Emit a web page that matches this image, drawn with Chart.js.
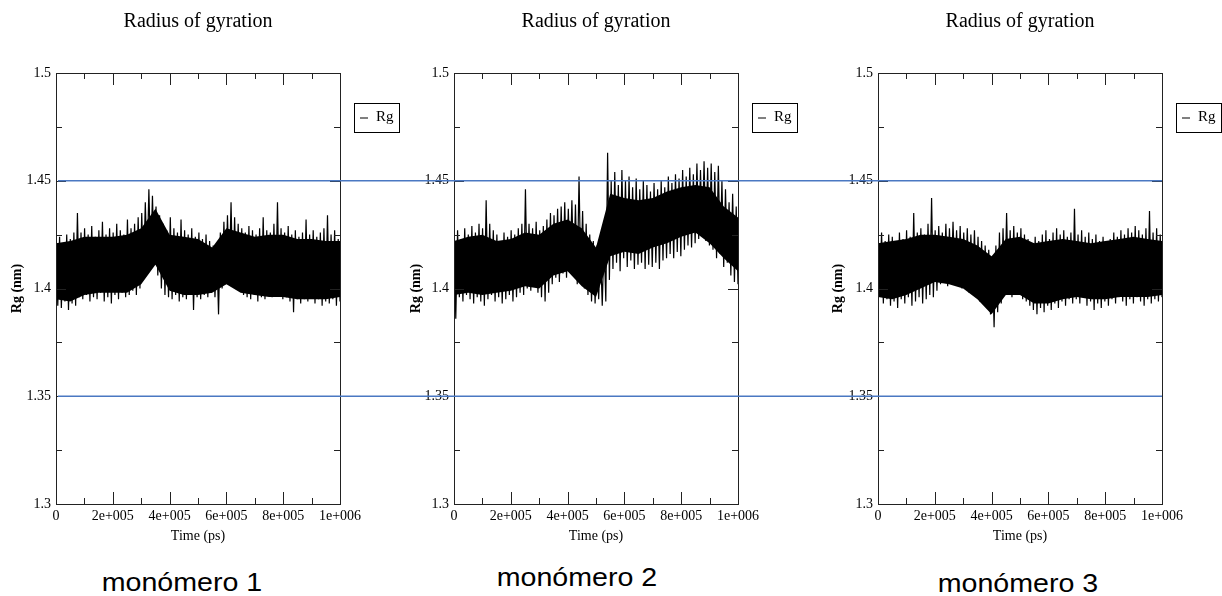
<!DOCTYPE html>
<html>
<head>
<meta charset="utf-8">
<script src="https://cdn.jsdelivr.net/npm/chart.js@4.4.1/dist/chart.umd.min.js"></script>
<style>
  html, body { margin: 0; padding: 0; background: #fff; }
  body { width: 1222px; height: 596px; position: relative; overflow: hidden; }
  canvas { position: absolute; top: 0; }
  .cap { position: absolute; font-family: "Liberation Sans", Arial, sans-serif; font-size: 26px; color: #000;
         white-space: nowrap; transform: translate(-50%, -50%) scaleX(1.1); }
</style>
</head>
<body>
<canvas id="c1" width="400" height="548" style="left:0px"></canvas>
<canvas id="c2" width="410" height="548" style="left:400px"></canvas>
<canvas id="c3" width="412" height="548" style="left:810px"></canvas>
<div class="cap" id="cap1" style="left:182px; top:582px"></div>
<div class="cap" id="cap2" style="left:577px; top:577px"></div>
<div class="cap" id="cap3" style="left:1018px; top:583px"></div>
<script>
// ---------------- data ----------------
const chartTitle = "Radius of gyration";
const seriesLabel = "Rg";
const xTitle = "Time (ps)";
const yTitle = "Rg (nm)";
const captions = ["monómero 1", "monómero 2", "monómero 3"];
const timeStart = 0;
const timeEnd = 1000000;
const xTickStep = 200000;
const yMin = 1.3;
const yMax = 1.5;
const yTickStep = 0.05;
const refLines = [1.35, 1.45];

// Rg (nm): alternating upper/lower excursions of the noisy trace, evenly spaced in time
const rg1 = [
1.422,1.392,1.424,1.391,1.420,1.394,1.425,1.390,1.423,1.393,1.426,1.392,1.435,1.396,1.426,1.395,
1.428,1.397,1.425,1.394,1.429,1.396,1.424,1.395,1.427,1.398,1.431,1.394,1.425,1.396,1.428,1.393,
1.426,1.397,1.430,1.395,1.427,1.398,1.425,1.396,1.432,1.397,1.428,1.399,1.430,1.397,1.433,1.400,
1.435,1.405,1.440,1.410,1.446,1.412,1.443,1.411,1.438,1.406,1.434,1.400,1.430,1.397,1.427,1.396,
1.433,1.395,1.428,1.397,1.426,1.394,1.432,1.396,1.427,1.395,1.425,1.397,1.428,1.390,1.424,1.396,
1.426,1.395,1.423,1.397,1.425,1.396,1.422,1.398,1.420,1.396,1.419,1.388,1.426,1.400,1.431,1.402,
1.434,1.404,1.440,1.401,1.433,1.403,1.430,1.399,1.428,1.397,1.426,1.396,1.429,1.395,1.427,1.397,
1.425,1.394,1.428,1.396,1.433,1.395,1.427,1.397,1.426,1.396,1.430,1.398,1.440,1.397,1.428,1.395,
1.426,1.396,1.429,1.394,1.425,1.389,1.427,1.395,1.424,1.393,1.426,1.395,1.432,1.394,1.425,1.396,
1.427,1.393,1.424,1.395,1.426,1.392,1.428,1.394,1.434,1.393,1.425,1.395,1.427,1.392,1.423,1.394
];
const rg2 = [
1.425,1.386,1.427,1.396,1.423,1.394,1.428,1.397,1.425,1.395,1.429,1.393,1.426,1.396,1.430,1.394,
1.428,1.392,1.441,1.395,1.430,1.397,1.427,1.394,1.425,1.396,1.422,1.393,1.426,1.395,1.424,1.397,
1.427,1.394,1.425,1.396,1.428,1.398,1.430,1.397,1.446,1.400,1.430,1.399,1.428,1.401,1.431,1.398,
1.427,1.396,1.429,1.394,1.432,1.398,1.435,1.402,1.434,1.405,1.437,1.403,1.438,1.407,1.440,1.405,
1.437,1.409,1.441,1.406,1.439,1.402,1.452,1.404,1.436,1.400,1.430,1.397,1.425,1.394,1.422,1.393,
1.420,1.395,1.419,1.392,1.423,1.394,1.463,1.404,1.450,1.409,1.454,1.412,1.448,1.408,1.455,1.414,
1.450,1.410,1.452,1.413,1.447,1.409,1.451,1.411,1.446,1.412,1.450,1.409,1.448,1.411,1.445,1.410,
1.449,1.412,1.446,1.409,1.450,1.413,1.447,1.414,1.452,1.416,1.449,1.414,1.453,1.417,1.451,1.415,
1.455,1.418,1.452,1.420,1.456,1.419,1.453,1.421,1.458,1.423,1.455,1.425,1.459,1.422,1.456,1.420,
1.458,1.418,1.454,1.414,1.457,1.416,1.450,1.410,1.446,1.412,1.440,1.406,1.444,1.403,1.438,1.402
];
const rg3 = [
1.423,1.397,1.426,1.393,1.422,1.395,1.425,1.392,1.424,1.394,1.421,1.391,1.426,1.395,1.423,1.393,
1.427,1.396,1.424,1.392,1.435,1.394,1.426,1.396,1.428,1.393,1.425,1.395,1.430,1.397,1.442,1.396,
1.427,1.399,1.429,1.402,1.426,1.404,1.430,1.401,1.428,1.403,1.431,1.405,1.427,1.402,1.429,1.400,
1.426,1.403,1.428,1.398,1.425,1.400,1.427,1.396,1.424,1.394,1.422,1.393,1.420,1.391,1.418,1.388,
1.413,1.382,1.420,1.389,1.426,1.393,1.428,1.397,1.435,1.398,1.427,1.396,1.429,1.399,1.426,1.397,
1.428,1.395,1.425,1.394,1.423,1.392,1.421,1.390,1.424,1.388,1.422,1.391,1.425,1.389,1.427,1.392,
1.423,1.390,1.426,1.393,1.428,1.391,1.425,1.394,1.427,1.392,1.424,1.395,1.426,1.393,1.437,1.395,
1.425,1.393,1.427,1.396,1.424,1.392,1.426,1.394,1.423,1.390,1.425,1.393,1.422,1.391,1.424,1.394,
1.421,1.392,1.423,1.395,1.426,1.393,1.424,1.396,1.427,1.394,1.425,1.392,1.428,1.395,1.426,1.393,
1.429,1.396,1.427,1.394,1.425,1.392,1.428,1.395,1.436,1.393,1.426,1.395,1.428,1.394,1.425,1.396
];
// dense (solid) core of the noisy trace: upper / lower edge, every 5e4 ps
const core1Hi = [1.421,1.422,1.424,1.424,1.424,1.425,1.428,1.437,1.425,1.424,1.423,1.419,1.428,1.426,1.424,1.425,1.425,1.423,1.423,1.422,1.422];
const core1Lo = [1.395,1.394,1.397,1.398,1.398,1.398,1.402,1.411,1.399,1.397,1.397,1.398,1.402,1.398,1.397,1.396,1.396,1.395,1.395,1.395,1.396];
const core2Hi = [1.422,1.424,1.425,1.422,1.423,1.426,1.425,1.430,1.432,1.428,1.419,1.444,1.442,1.441,1.442,1.445,1.447,1.448,1.447,1.438,1.433];
const core2Lo = [1.397,1.398,1.397,1.398,1.399,1.401,1.400,1.406,1.408,1.401,1.396,1.415,1.417,1.416,1.419,1.421,1.424,1.426,1.421,1.414,1.408];
const core3Hi = [1.421,1.422,1.423,1.425,1.425,1.424,1.423,1.420,1.415,1.423,1.424,1.421,1.422,1.423,1.422,1.421,1.422,1.423,1.424,1.423,1.422];
const core3Lo = [1.396,1.395,1.397,1.400,1.403,1.402,1.400,1.395,1.388,1.397,1.397,1.393,1.393,1.395,1.396,1.395,1.395,1.396,1.396,1.396,1.397];

const seriesList = [rg1, rg2, rg3];
const coreHiList = [core1Hi, core2Hi, core3Hi];
const coreLoList = [core1Lo, core2Lo, core3Lo];

// ---------------- layout / style ----------------
const panels = [
  { id: 'c1', yAxisW: 56, padRight: 60, yTitlePad: 8.6, lineFrom: 'plot', lineTo: 'edge' },
  { id: 'c2', yAxisW: 54, padRight: 72, yTitlePad: 7.6, lineFrom: 'edge', lineTo: 'edge' },
  { id: 'c3', yAxisW: 68, padRight: 60, yTitlePad: 19.6, lineFrom: 'edge', lineTo: 'plot' }
];
const SERIF = '"Liberation Serif", "Times New Roman", serif';

function fmtX(v) {
  if (v === 0) return '0';
  const e = Math.floor(Math.log10(v) + 1e-9);
  const m = Math.round(v / Math.pow(10, e) * 1000) / 1000;
  return m + 'e+' + String(e).padStart(3, '0');
}
function fmtY(v) { return String(Math.round(v * 1000) / 1000); }
function toPoints(values) {
  const n = values.length;
  return values.map((v, i) => ({ x: timeStart + (timeEnd - timeStart) * i / (n - 1), y: v }));
}

const panelPlugin = {
  id: 'panel',
  afterDatasetsDraw(chart, args, opts) {
    const { ctx, chartArea: a, scales: { x, y } } = chart;
    ctx.save();
    // frame
    ctx.strokeStyle = '#222';
    ctx.lineWidth = 1;
    ctx.strokeRect(Math.round(a.left) + 0.5, Math.round(a.top) + 0.5,
                   Math.round(a.right - a.left), Math.round(a.bottom - a.top));
    // inward ticks
    ctx.beginPath();
    const xMajor = x.ticks.map(t => t.value);
    for (let i = 0; i < xMajor.length; i++) {
      const px = Math.round(x.getPixelForValue(xMajor[i])) + 0.5;
      ctx.moveTo(px, a.bottom); ctx.lineTo(px, a.bottom - 12);
      ctx.moveTo(px, a.top); ctx.lineTo(px, a.top + 12);
      if (i < xMajor.length - 1) {
        const pm = Math.round(x.getPixelForValue((xMajor[i] + xMajor[i + 1]) / 2)) + 0.5;
        ctx.moveTo(pm, a.bottom); ctx.lineTo(pm, a.bottom - 6);
        ctx.moveTo(pm, a.top); ctx.lineTo(pm, a.top + 6);
      }
    }
    const yMajor = y.ticks.map(t => t.value);
    for (let i = 0; i < yMajor.length; i++) {
      const py = Math.round(y.getPixelForValue(yMajor[i])) + 0.5;
      ctx.moveTo(a.left, py); ctx.lineTo(a.left + 10, py);
      ctx.moveTo(a.right, py); ctx.lineTo(a.right - 10, py);
      if (i < yMajor.length - 1) {
        const pm = Math.round(y.getPixelForValue((yMajor[i] + yMajor[i + 1]) / 2)) + 0.5;
        ctx.moveTo(a.left, pm); ctx.lineTo(a.left + 6, pm);
        ctx.moveTo(a.right, pm); ctx.lineTo(a.right - 6, pm);
      }
    }
    ctx.stroke();
    // reference lines
    ctx.strokeStyle = '#4a78c2';
    ctx.lineWidth = 1.6;
    ctx.beginPath();
    const x0 = opts.lineFrom === 'plot' ? a.left + 2 : 0;
    const x1 = opts.lineTo === 'plot' ? a.right : chart.width;
    for (const v of refLines) {
      const py = y.getPixelForValue(v);
      ctx.moveTo(x0, py); ctx.lineTo(x1, py);
    }
    ctx.stroke();
    // legend box
    const lx = a.right + 14, ly = a.top + 30, lw = 45, lh = 29;
    ctx.strokeStyle = '#000';
    ctx.lineWidth = 1;
    ctx.strokeRect(Math.round(lx) + 0.5, Math.round(ly) + 0.5, lw, lh);
    ctx.beginPath();
    ctx.moveTo(lx + 6, ly + lh / 2 + 0.5); ctx.lineTo(lx + 14, ly + lh / 2 + 0.5);
    ctx.stroke();
    ctx.fillStyle = '#000';
    ctx.font = '15px ' + SERIF;
    ctx.textBaseline = 'middle';
    ctx.textAlign = 'left';
    ctx.fillText(chart.data.datasets[0].label, lx + 22, ly + lh / 2);
    ctx.restore();
  }
};

panels.forEach((p, idx) => {
  new Chart(document.getElementById(p.id), {
    type: 'line',
    data: { datasets: [
      { label: seriesLabel, data: toPoints(seriesList[idx]), borderColor: '#000', borderWidth: 1.2,
        pointRadius: 0, tension: 0, fill: false },
      { label: seriesLabel + ' core', data: toPoints(coreHiList[idx]), borderWidth: 0, borderColor: '#000',
        backgroundColor: '#000', pointRadius: 0, tension: 0, fill: '+1' },
      { label: seriesLabel + ' core', data: toPoints(coreLoList[idx]), borderWidth: 0, borderColor: '#000',
        pointRadius: 0, tension: 0, fill: false }
    ] },
    options: {
      responsive: false,
      animation: false,
      events: [],
      layout: { padding: { left: 0, right: p.padRight, top: 0, bottom: 0 } },
      plugins: {
        legend: { display: false },
        tooltip: { enabled: false },
        title: { display: true, text: chartTitle, fullSize: false, color: '#000',
                 font: { family: SERIF, size: 20, weight: 'normal' }, padding: { top: 10, bottom: 39 } },
        panel: { lineFrom: p.lineFrom, lineTo: p.lineTo }
      },
      scales: {
        x: {
          type: 'linear', min: timeStart, max: timeEnd,
          grid: { display: false, drawTicks: false },
          border: { display: false },
          ticks: { stepSize: xTickStep, padding: 4, color: '#000', maxRotation: 0, autoSkip: false,
                   font: { family: SERIF, size: 14 }, callback: v => fmtX(v) },
          title: { display: true, text: xTitle, color: '#000', font: { family: SERIF, size: 14 },
                   padding: { top: 0, bottom: 3 } },
          afterFit: s => { s.height = 44; }
        },
        y: {
          type: 'linear', min: yMin, max: yMax,
          grid: { display: false, drawTicks: false },
          border: { display: false },
          ticks: { stepSize: yTickStep, padding: 5, color: '#000',
                   font: { family: SERIF, size: 14 }, callback: v => fmtY(v) },
          title: { display: true, text: yTitle, color: '#000', font: { family: SERIF, size: 14, weight: 'bold' },
                   padding: { top: p.yTitlePad, bottom: 0 } },
          afterFit: s => { s.width = p.yAxisW; }
        }
      }
    },
    plugins: [panelPlugin]
  });
  document.getElementById('cap' + (idx + 1)).textContent = captions[idx];
});
</script>
</body>
</html>
